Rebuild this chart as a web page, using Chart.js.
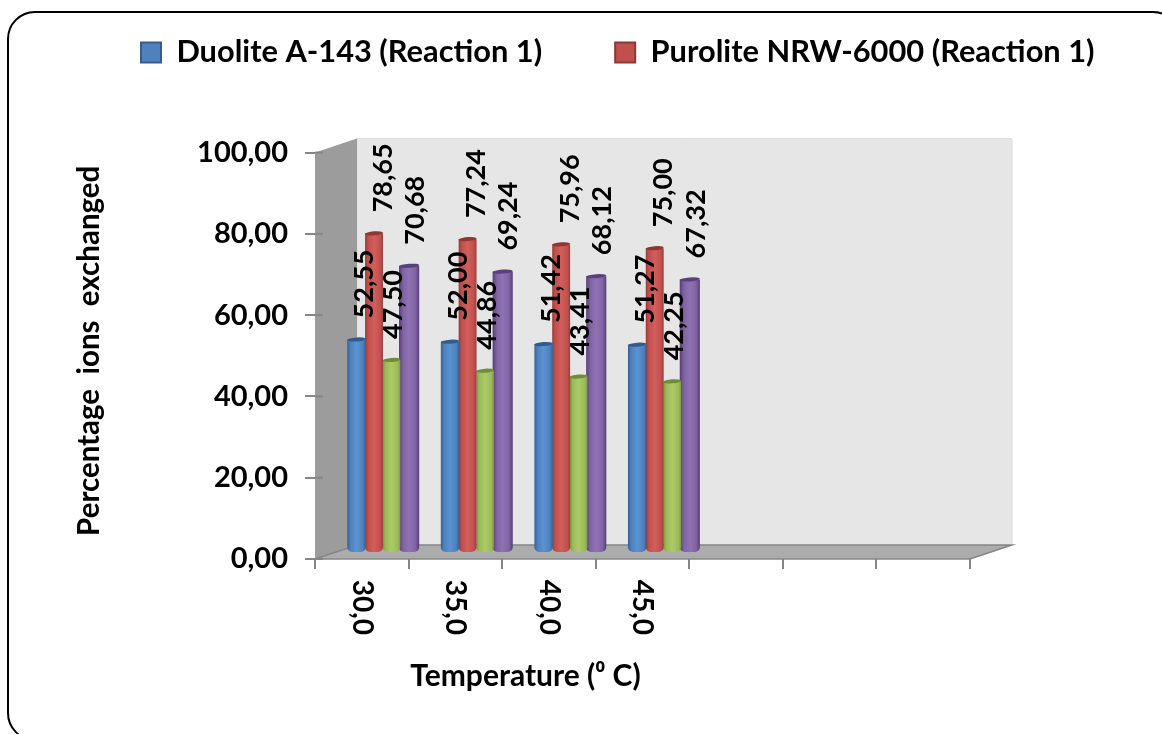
<!DOCTYPE html>
<html>
<head>
<meta charset="utf-8">
<title>Percentage ions exchanged</title>
<script src="https://cdn.jsdelivr.net/npm/chart.js@4/dist/chart.umd.min.js"></script>
<style>
  html, body { margin: 0; padding: 0; background: #fff; }
  #wrap { width: 1162px; height: 734px; overflow: hidden; }
</style>
</head>
<body>
<div id="wrap"><canvas id="myChart" width="1162" height="734"></canvas></div>
<script>
const categories = ['30,0', '35,0', '40,0', '45,0', '', '', ''];
const seriesNames = ['Duolite A-143 (Reaction 1)', 'Purolite NRW-6000 (Reaction 1)', 'Series 3', 'Series 4'];
const duolite = [52.55, 52.00, 51.42, 51.27];
const purolite = [78.65, 77.24, 75.96, 75.00];
const series3 = [47.50, 44.86, 43.41, 42.25];
const series4 = [70.68, 69.24, 68.12, 67.32];

const fontFamily = 'Lato, Carlito, sans-serif';
const catPct = 0.75;
const depth = { x: 42, y: -14 };   // back wall offset
const barShift = { x: 21, y: -6 }; // bars stand half way into the floor
const labelDx = [8, 9, 2, 6];      // value labels sit right of their bars

const barColors = [
  ['#2f5b8f', '#4f81bd', '#5b92d2'],
  ['#8f3532', '#c0504d', '#d35e5b'],
  ['#6f8c36', '#9bbb59', '#aacb66'],
  ['#58417a', '#8064a2', '#8f72b4']
];
const borderColors = ['#385d8a', '#8c3836', '#71893f', '#5c4776'];

function shade(colors) {
  return function (c) {
    if (c.dataIndex === undefined) return colors[1];
    const xs = c.chart.scales.x;
    const step = (xs.width / categories.length) * catPct / 4;
    const mid = xs.getPixelForTick(c.dataIndex) + (c.datasetIndex - 1.5) * step;
    const g = c.chart.ctx.createLinearGradient(mid - step / 2 - 1, 0, mid + step / 2 + 1, 0);
    g.addColorStop(0, colors[0]);
    g.addColorStop(0.2, colors[1]);
    g.addColorStop(0.5, colors[2]);
    g.addColorStop(0.82, colors[1]);
    g.addColorStop(1, colors[0]);
    return g;
  };
}

function shiftTitle(scale, dx, dy) {
  if (scale._titleShifted) return;
  const dt = scale.drawTitle;
  scale.drawTitle = function () {
    scale.ctx.save();
    scale.ctx.translate(dx, dy);
    dt.call(scale);
    scale.ctx.restore();
  };
  scale._titleShifted = true;
}

const frameAndWalls = {
  id: 'frameAndWalls',
  beforeDraw(chart) {
    const ctx = chart.ctx;
    const xs = chart.scales.x, ys = chart.scales.y;
    const l = xs.left, r = xs.right, b = ys.getPixelForValue(0), t = ys.getPixelForValue(100);

    ctx.save();
    ctx.strokeStyle = '#000';
    ctx.lineWidth = 2;
    ctx.beginPath();
    ctx.roundRect(8, 12, 1172, 728, 27);
    ctx.stroke();

    // back wall
    ctx.fillStyle = '#e6e6e6';
    ctx.strokeStyle = '#dcdcdc';
    ctx.lineWidth = 1;
    ctx.beginPath();
    ctx.rect(l + depth.x, t + depth.y, r - l, b - t);
    ctx.fill();
    ctx.stroke();

    // side wall
    ctx.fillStyle = '#9c9c9c';
    ctx.beginPath();
    ctx.moveTo(l, b);
    ctx.lineTo(l, t);
    ctx.lineTo(l + depth.x, t + depth.y);
    ctx.lineTo(l + depth.x, b + depth.y);
    ctx.closePath();
    ctx.fill();

    // floor
    ctx.fillStyle = '#acacac';
    ctx.beginPath();
    ctx.moveTo(l, b);
    ctx.lineTo(l + depth.x, b + depth.y);
    ctx.lineTo(r + depth.x, b + depth.y);
    ctx.lineTo(r, b);
    ctx.closePath();
    ctx.fill();
    ctx.strokeStyle = '#868686';
    ctx.lineWidth = 1.5;
    ctx.stroke();

    // tick stubs run a little onto the side wall
    ctx.lineWidth = 2;
    ys.ticks.forEach(function (tick) {
      const y = ys.getPixelForValue(tick.value);
      ctx.beginPath();
      ctx.moveTo(l, y);
      ctx.lineTo(l + 8, y);
      ctx.stroke();
    });
    ctx.restore();
  },
  afterDatasetDraw(chart, args) {
    // top of each cylinder
    const ctx = chart.ctx;
    const colors = barColors[args.index];
    args.meta.data.forEach(function (el) {
      ctx.save();
      ctx.fillStyle = colors[0];
      ctx.beginPath();
      ctx.ellipse(el.x, el.y, el.width / 2, 2, -0.07, 0, Math.PI * 2);
      ctx.fill();
      ctx.restore();
    });
  },
  beforeDatasetsDraw(chart) {
    chart.ctx.save();
    chart.ctx.translate(barShift.x, barShift.y);
  },
  afterDatasetsDraw(chart) {
    const ctx = chart.ctx;
    ctx.font = 'bold 27px ' + fontFamily;
    ctx.fillStyle = '#000';
    ctx.textAlign = 'left';
    ctx.textBaseline = 'middle';
    chart.data.datasets.forEach(function (ds, i) {
      chart.getDatasetMeta(i).data.forEach(function (el, j) {
        ctx.save();
        ctx.translate(el.x + labelDx[i], el.y - 21);
        ctx.rotate(-Math.PI / 2);
        ctx.fillText(ds.data[j].toFixed(2).replace('.', ','), 0, 0);
        ctx.restore();
      });
    });
    ctx.restore();
  },
  afterLayout(chart) {
    const lg = chart.legend;
    lg.left = 68;
    lg.right = 1300;
    lg.top = -36;
    shiftTitle(chart.scales.x, -117, 0);
    shiftTitle(chart.scales.y, 0, -5);
  }
};

function makeDataset(i, values, barPct) {
  return {
    label: seriesNames[i],
    data: values,
    backgroundColor: shade(barColors[i]),
    borderWidth: 0,
    borderRadius: { topLeft: 0, topRight: 0, bottomLeft: 5, bottomRight: 5 },
    borderSkipped: false,
    categoryPercentage: catPct,
    barPercentage: barPct
  };
}

new Chart(document.getElementById('myChart').getContext('2d'), {
  type: 'bar',
  data: {
    labels: categories,
    datasets: [
      makeDataset(0, duolite, 1.05),
      makeDataset(1, purolite, 1.02),
      makeDataset(2, series3, 1),
      makeDataset(3, series4, 1.15)
    ]
  },
  plugins: [frameAndWalls],
  options: {
    responsive: false,
    animation: false,
    layout: { padding: { top: -65, left: 66, right: 192, bottom: 0 } },
    plugins: {
      tooltip: { enabled: false },
      legend: {
        position: 'top',
        align: 'start',
        labels: {
          color: '#000',
          font: { family: fontFamily, weight: 'bold', size: 30.8 },
          boxWidth: 20,
          boxHeight: 20,
          padding: 73,
          filter: function (item) { return item.datasetIndex < 2; },
          generateLabels: function (chart) {
            return chart.data.datasets.map(function (ds, i) {
              return {
                text: ds.label,
                datasetIndex: i,
                fillStyle: barColors[i][1],
                strokeStyle: borderColors[i],
                lineWidth: 2,
                hidden: false
              };
            });
          }
        }
      }
    },
    scales: {
      x: {
        offset: true,
        afterFit: function (s) { s.height = 175; },
        grid: { drawOnChartArea: false, color: '#868686', lineWidth: 2, tickLength: 10, offset: true },
        border: { display: false },
        ticks: {
          autoSkip: false,
          minRotation: -90,
          maxRotation: -90,
          padding: 66,
          color: '#000',
          font: { family: fontFamily, weight: 'bold', size: 28 }
        },
        title: {
          display: true,
          text: 'Temperature (\u2070 C)',
          color: '#000',
          font: { family: fontFamily, weight: 'bold', size: 30 },
          padding: { top: 0, bottom: 40 }
        }
      },
      y: {
        min: 0,
        max: 100,
        afterFit: function (s) { s.width = 249; },
        grid: { drawOnChartArea: false, color: '#868686', lineWidth: 2, tickLength: 10 },
        border: { display: false },
        ticks: {
          stepSize: 20,
          padding: 17,
          color: '#000',
          font: { family: fontFamily, weight: 'bold', size: 29 },
          callback: function (v) { return v.toFixed(2).replace('.', ','); }
        },
        title: {
          display: true,
          text: 'Percentage  ions  exchanged',
          color: '#000',
          font: { family: fontFamily, weight: 'bold', size: 29.5 },
          padding: { top: 6, bottom: 0 }
        }
      }
    }
  }
});
</script>
</body>
</html>
